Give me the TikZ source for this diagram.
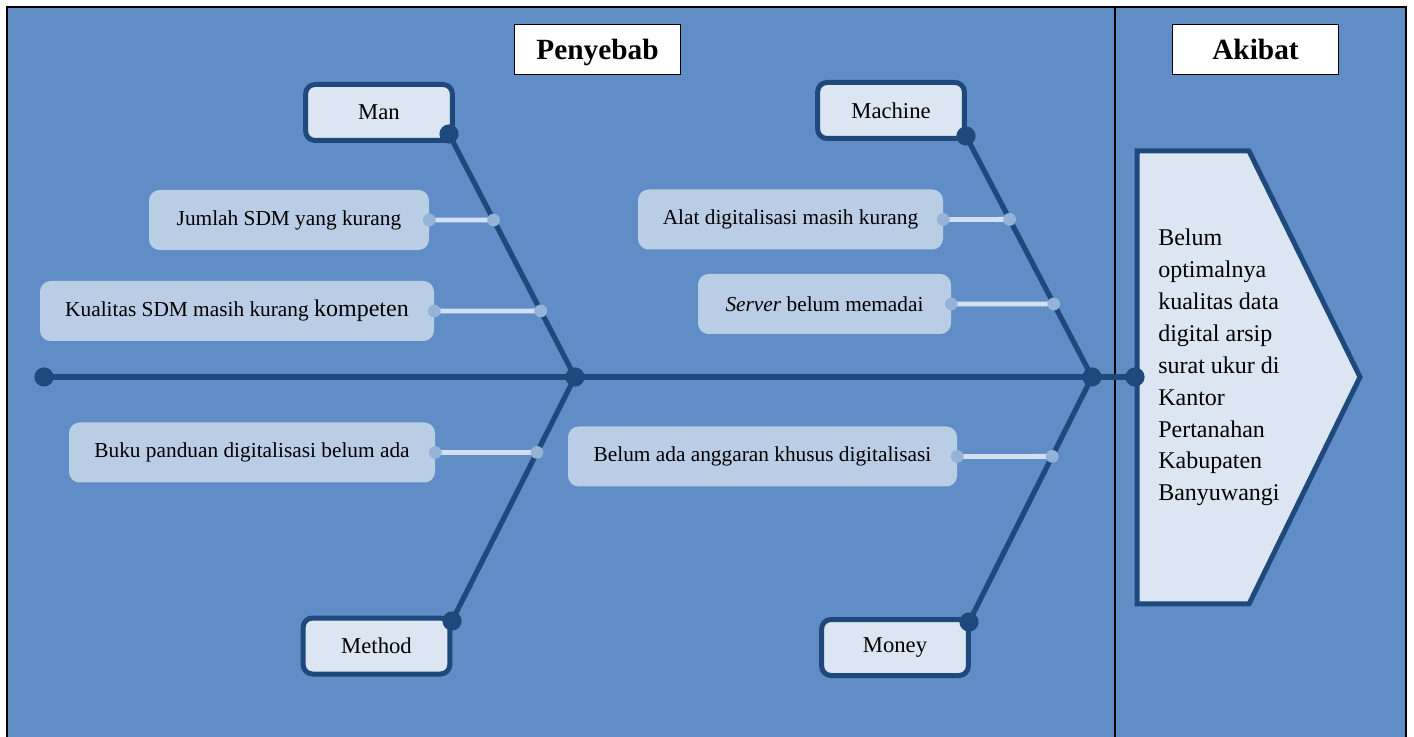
\documentclass[tikz,border=0pt]{standalone}
\usepackage{fontspec}
\setmainfont{Liberation Serif}
\usetikzlibrary{calc}

\definecolor{latar}{RGB}{96,141,197}
\definecolor{tulang}{RGB}{31,73,125}
\definecolor{kotakterang}{RGB}{220,230,242}
\definecolor{kotaksebab}{RGB}{185,205,229}
\definecolor{garissebab}{RGB}{210,224,243}
\definecolor{titiksebab}{RGB}{149,179,215}

\tikzset{
  judul/.style={draw=black, fill=white, line width=0.8pt, inner sep=0pt, text depth=0pt,
    minimum width=125pt, minimum height=38pt, font=\bfseries\fontsize{22}{26}\selectfont},
  kategori/.style={draw=tulang, line width=3.75pt, fill=kotakterang, rounded corners=7pt,
    inner sep=0pt, minimum width=110pt, minimum height=42pt, font=\fontsize{17}{20}\selectfont},
  sebab/.style={fill=kotaksebab, rounded corners=8pt, inner sep=0pt,
    minimum height=45pt, font=\fontsize{16}{19}\selectfont},
  tulangikan/.style={draw=tulang, line width=3.9pt},
  ranting/.style={draw=garissebab, line width=3.6pt},
}

\begin{document}
\begin{tikzpicture}[x=0.75pt,y=-0.75pt]

  % Bounding box of the scheme
  \useasboundingbox (0,0) rectangle (1414,737);
  \clip (0,0) rectangle (1414,737);
  \fill[white] (0,0) rectangle (1414,737);

  %%%%%%%%%%%%%%%%%%%%%%%%%%%%%%%%% Latar %%%%%%%%%%%%%%%%%%%%%%%%%%%%%%%%%%%%
  \draw[fill=latar, line width=1pt] (7,7) rectangle (1406,760);
  \draw[line width=0.9pt] (1115,7) -- (1115,760);

  \node[judul] (penyebab) at (597.5,49.5) {Penyebab};
  \node[judul] (akibat) at (1255.5,49.5) {Akibat};

  %%%%%%%%%%%%%%%%%%%%%%%%%%%%%%%%% Titik kerja %%%%%%%%%%%%%%%%%%%%%%%%%%%%%%%
  % Tulang utama
  \coordinate (ekor) at (44,377);
  \coordinate (kiri) at (575,377);
  \coordinate (kanan) at (1092,377);
  \coordinate (kepala) at (1135,377);

  % Ujung tulang kategori
  \coordinate (tman) at (449,134);
  \coordinate (tmethod) at (452,621);
  \coordinate (tmachine) at (966,136);
  \coordinate (tmoney) at (969,622);

  % Titik ranting pada tulang
  \coordinate (r1) at ($(tman)!0.354!(kiri)$);
  \coordinate (r2) at ($(tman)!0.728!(kiri)$);
  \coordinate (r3) at ($(kiri)!0.309!(tmethod)$);
  \coordinate (r4) at ($(tmachine)!0.346!(kanan)$);
  \coordinate (r5) at ($(tmachine)!0.697!(kanan)$);
  \coordinate (r6) at ($(kanan)!0.324!(tmoney)$);

  %%%%%%%%%%%%%%%%%%%%%%%%%%%%%%%%% Tulang %%%%%%%%%%%%%%%%%%%%%%%%%%%%%%%%%%%%
  \draw[tulangikan] (ekor) -- (kepala) ;
  \draw[tulangikan] (tman) -- (kiri) ;
  \draw[tulangikan] (kiri) -- (tmethod) ;
  \draw[tulangikan] (tmachine) -- (kanan) ;
  \draw[tulangikan] (kanan) -- (tmoney) ;

  %%%%%%%%%%%%%%%%%%%%%%%%%%%%%%%%% Kategori %%%%%%%%%%%%%%%%%%%%%%%%%%%%%%%%%%
  \node[kategori] (man) at (379,112.5) {Man};
  \node[kategori] (machine) at (891,110.5) {Machine};
  \node[kategori] (method) at (376.5,646) {Method};
  \node[kategori] (money) at (895,647.5) {Money};

  %%%%%%%%%%%%%%%%%%%%%%%%%%%%%%%%% Akibat %%%%%%%%%%%%%%%%%%%%%%%%%%%%%%%%%%%%
  \coordinate (a1) at (1137,151);
  \coordinate (a2) at (1249,151);
  \coordinate (a3) at (1360,377);
  \coordinate (a4) at (1249,604);
  \coordinate (a5) at (1137,604);
  \draw[draw=tulang, fill=kotakterang, line width=3.75pt] (a1) -- (a2) -- (a3) -- (a4) -- (a5) -- cycle;

  \node[anchor=north west, inner sep=0pt, align=left, font=\fontsize{18}{23.9}\selectfont]
    (hasil) at (1158,229)
    {Belum\\ optimalnya\\ kualitas data\\ digital arsip\\ surat ukur di\\ Kantor\\ Pertanahan\\ Kabupaten\\ Banyuwangi};

  %%%%%%%%%%%%%%%%%%%%%%%%%%%%%%%%% Sebab %%%%%%%%%%%%%%%%%%%%%%%%%%%%%%%%%%%%%
  \node[sebab, minimum width=210pt] (s1) at (289,220) {Jumlah SDM yang kurang};
  \node[sebab, minimum width=295.5pt] (s2) at (237,311)
    {Kualitas SDM masih kurang {\fontsize{18}{20}\selectfont kompeten}};
  \node[sebab, minimum width=274.5pt] (s3) at (252,452.5) {Buku panduan digitalisasi belum ada};
  \node[sebab, minimum width=228.75pt] (s4) at (790.5,219.5) {Alat digitalisasi masih kurang};
  \node[sebab, minimum width=189.75pt] (s5) at (824.5,304) {\textit{Server} belum memadai};
  \node[sebab, minimum width=291.75pt] (s6) at (762.5,456.5) {Belum ada anggaran khusus digitalisasi};

  \foreach \i in {1,2,...,6} {
    \draw[ranting] (s\i.east) -- (r\i) ;
  }

  %%%%%%%%%%%%%%%%%%%%%%%%%%%%%%%%% Titik %%%%%%%%%%%%%%%%%%%%%%%%%%%%%%%%%%%%%
  \foreach \i in {1,2,...,6} {
    \fill[titiksebab] (s\i.east) circle (4.8pt) ;
    \fill[titiksebab] (r\i) circle (4.8pt) ;
  }

  \foreach \t in {ekor,kiri,kanan,kepala,tman,tmethod,tmachine,tmoney} {
    \fill[tulang] (\t) circle (7.2pt) ;
  }

\end{tikzpicture}
\end{document}
